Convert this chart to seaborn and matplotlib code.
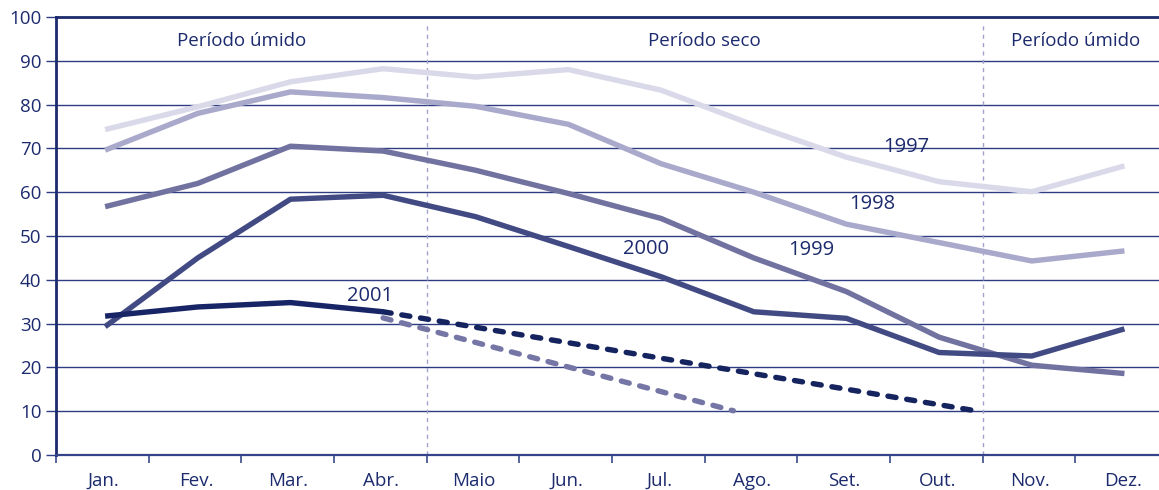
import numpy as np
import pandas as pd
import matplotlib
matplotlib.use("Agg")
import matplotlib.pyplot as plt
import seaborn as sns

# ---------------- data ----------------
months = ["Jan.", "Fev.", "Mar.", "Abr.", "Maio", "Jun.", "Jul.", "Ago.",
          "Set.", "Out.", "Nov.", "Dez."]
y1997 = [74.3, 79.5, 85.2, 88.2, 86.3, 88.0, 83.3, 75.3, 68.0, 62.4, 60.1, 66.0]
y1998 = [69.6, 78.0, 82.9, 81.6, 79.6, 75.5, 66.5, 60.0, 52.7, 48.5, 44.3, 46.6]
y1999 = [56.7, 62.0, 70.5, 69.4, 65.0, 59.7, 54.0, 45.0, 37.3, 26.9, 20.5, 18.6]
y2000 = [29.3, 45.0, 58.4, 59.3, 54.4, 47.6, 40.7, 32.7, 31.2, 23.4, 22.6, 28.8]
y2001 = [31.7, 33.8, 34.8, 32.7]
# projections (month index, value)
proj_a_x = [3.0, 9.42]
proj_a_y = [32.7, 10.0]
proj_b_x = [3.0, 6.78]
proj_b_y = [31.3, 10.1]

years = ["1997", "1998", "1999", "2000", "2001"]
series = [y1997, y1998, y1999, y2000, y2001]
periods = ["Período úmido", "Período seco", "Período úmido"]

palette = {"1997": "#d9d9ea", "1998": "#a9a9cc", "1999": "#7272a1",
           "2000": "#424a83", "2001": "#172566"}
navy = "#1c2a6e"

rows = []
for yr, vals in zip(years, series):
    for i, v in enumerate(vals):
        rows.append({"x": i, "value": v, "year": yr})
df = pd.DataFrame(rows)

sns.set_style("white")
plt.rcParams["font.family"] = ["Open Sans", "DejaVu Sans"]

fig = plt.figure(figsize=(11.59, 4.90), dpi=100)
ax = fig.add_axes([56 / 1159, 35 / 490, (1168 - 56) / 1159, (455 - 17) / 490])

off = 0.53
ax.set_xlim(-off, 11 + (1 - off))
ax.set_ylim(0, 100)

# grid
for v in range(10, 100, 10):
    ax.axhline(v, color="#2e3d83", lw=1.0, zorder=1)

# period separators
for b in [3.5, 9.5]:
    ax.axvline(b - (off - 0.5), ymax=0.985, color="#a2a2cc", lw=1.0,
               ls=(0, (3, 3)), zorder=1)

sns.lineplot(data=df, x="x", y="value", hue="year", palette=palette,
             lw=3.9, ax=ax, legend=False, zorder=3,
             solid_capstyle="butt")

proj_a = pd.DataFrame({"x": proj_a_x, "value": proj_a_y})
proj_b = pd.DataFrame({"x": proj_b_x, "value": proj_b_y})
sns.lineplot(data=proj_b, x="x", y="value", color="#7676a6", lw=3.9,
             ax=ax, zorder=2)
ln = ax.lines[-1]
ln.set_linestyle((0, (1.5, 2.0)))
ln.set_dash_capstyle("round")
sns.lineplot(data=proj_a, x="x", y="value", color="#15235f", lw=3.9,
             ax=ax, zorder=2)
ln = ax.lines[-1]
ln.set_linestyle((0, (1.5, 2.0)))
ln.set_dash_capstyle("round")

# year labels
label_pos = {"1997": (8.64, 70.3), "1998": (8.28, 57.3), "1999": (7.62, 46.9),
             "2000": (5.84, 47.0), "2001": (2.86, 36.4)}
for yr, (lx, ly) in label_pos.items():
    ax.text(lx, ly, yr, ha="center", va="center", fontsize=14.5,
            color=navy, zorder=4)

# period labels
for lbl, cx in zip(periods, [1.5 - (off - 0.5), 6.5 - (off - 0.5), 10.5 - (off - 0.5)]):
    ax.text(cx, 94.6, lbl, ha="center", va="center", fontsize=13.5,
            color=navy)

# axes styling
ax.set_xlabel("")
ax.set_ylabel("")
ax.set_yticks(range(0, 101, 10))
ax.set_yticklabels([str(v) for v in range(0, 101, 10)], fontsize=13.5,
                   color=navy)
ax.tick_params(axis="y", direction="out", length=7.5, width=1.0,
               color="#2e3d83", pad=3, left=True)

bounds = np.arange(13) - off
ax.set_xticks(bounds)
ax.set_xticklabels([""] * 13)
ax.tick_params(axis="x", which="major", direction="out", length=6,
               width=1.2, color="#3a4a8e", bottom=True)
ax.set_xticks(np.arange(12) - 0.02, minor=True)
ax.set_xticklabels(months, minor=True, fontsize=13.5, color=navy)
ax.tick_params(axis="x", which="minor", length=0, pad=12)

ax.spines["right"].set_visible(False)
ax.spines["left"].set_color(navy)
ax.spines["left"].set_linewidth(2.0)
ax.spines["top"].set_color(navy)
ax.spines["top"].set_linewidth(2.0)
ax.spines["bottom"].set_color("#34448a")
ax.spines["bottom"].set_linewidth(1.6)

fig.savefig("out.png", dpi=100)
